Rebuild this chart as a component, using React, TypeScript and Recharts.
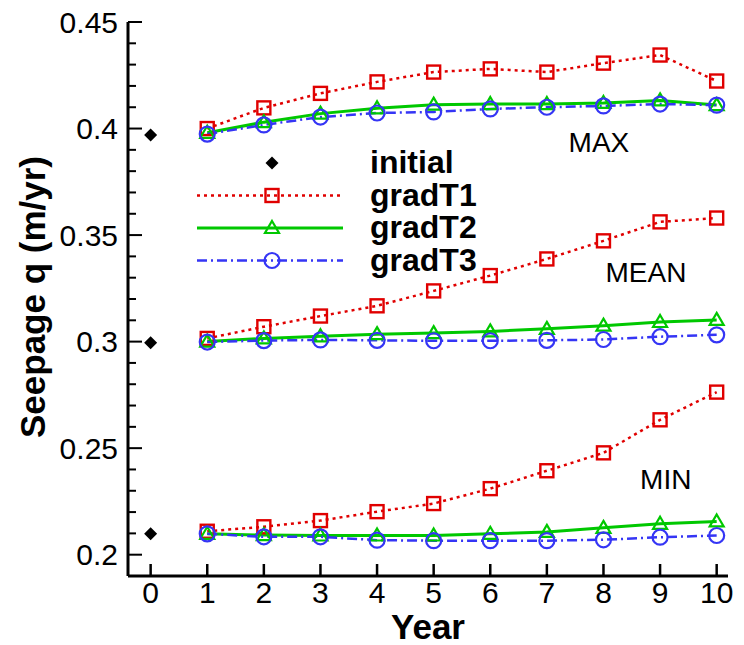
import React from "react";
import { ComposedChart, Line, XAxis, YAxis, ReferenceDot } from "recharts";

const FONT = "'Liberation Sans', Arial, sans-serif";

// x values (year) and tick marks
const years = [1, 2, 3, 4, 5, 6, 7, 8, 9, 10];
const xTicks = [0, 1, 2, 3, 4, 5, 6, 7, 8, 9, 10];
const yMajorTicks = [0.2, 0.25, 0.3, 0.35, 0.4, 0.45];
const yMinorTicks = [
  0.21, 0.22, 0.23, 0.24, 0.26, 0.27, 0.28, 0.29, 0.31, 0.32, 0.33, 0.34,
  0.36, 0.37, 0.38, 0.39, 0.41, 0.42, 0.43, 0.44,
];

// initial seepage at year 0
const initialYear = 0;
const initialMax = 0.397;
const initialMean = 0.2995;
const initialMin = 0.2098;

// gradT1
const gradT1Max = [0.4, 0.4097, 0.4165, 0.4219, 0.4265, 0.428, 0.4265, 0.4307, 0.4345, 0.4223];
const gradT1Mean = [0.3015, 0.307, 0.312, 0.3168, 0.3238, 0.331, 0.3388, 0.3473, 0.3562, 0.358];
const gradT1Min = [0.211, 0.2131, 0.216, 0.2202, 0.224, 0.231, 0.2394, 0.2478, 0.2633, 0.2763];

// gradT2
const gradT2Max = [0.398, 0.403, 0.407, 0.4095, 0.4112, 0.4115, 0.4115, 0.412, 0.4132, 0.411];
const gradT2Mean = [0.3, 0.3015, 0.3025, 0.3035, 0.304, 0.3048, 0.306, 0.3075, 0.3092, 0.3102];
const gradT2Min = [0.2098, 0.2092, 0.209, 0.209, 0.209, 0.2098, 0.2107, 0.2126, 0.2145, 0.2156];

// gradT3
const gradT3Max = [0.3974, 0.4017, 0.4054, 0.4073, 0.4078, 0.4092, 0.41, 0.4106, 0.4115, 0.411];
const gradT3Mean = [0.2998, 0.3005, 0.3008, 0.3006, 0.3004, 0.3004, 0.3006, 0.301, 0.3023, 0.3032];
const gradT3Min = [0.2098, 0.2084, 0.2084, 0.2068, 0.2066, 0.2066, 0.2066, 0.207, 0.2082, 0.209];

// group annotations
const groupNames = ["MAX", "MEAN", "MIN"];
const groupLabelYears = [7.92, 8.75, 9.1];
const groupLabelValues = [0.3935, 0.3325, 0.2357];

const series = [
  { name: "gradT1", color: "#e00000", dash: "3 4", width: 2.5, marker: "square", values: [gradT1Max, gradT1Mean, gradT1Min] },
  { name: "gradT2", color: "#00c800", dash: undefined, width: 3, marker: "triangle", values: [gradT2Max, gradT2Mean, gradT2Min] },
  { name: "gradT3", color: "#3535f5", dash: "10 4 2 4", width: 2.5, marker: "circle", values: [gradT3Max, gradT3Mean, gradT3Min] },
];
const initialValues = [initialMax, initialMean, initialMin];

const rows: any[] = [
  Object.fromEntries([["year", initialYear], ...groupNames.map((g, gi) => ["initial_" + g, initialValues[gi]])]),
  ...years.map((year, i) => {
    const row: any = { year };
    series.forEach((s) => groupNames.forEach((g, gi) => (row[s.name + "_" + g] = s.values[gi][i])));
    return row;
  }),
];

const PLOT_LEFT = 128;
const PLOT_BOTTOM = 576;

function Marker({ kind, cx, cy, color }: { kind: string; cx: number; cy: number; color: string }) {
  if (kind === "square")
    return <rect x={cx - 6.5} y={cy - 6.5} width={13} height={13} fill="none" stroke={color} strokeWidth={2.4} />;
  if (kind === "triangle")
    return (
      <path
        d={`M${cx},${cy - 7} L${cx + 7},${cy + 5} L${cx - 7},${cy + 5} Z`}
        fill="none"
        stroke={color}
        strokeWidth={2.2}
      />
    );
  if (kind === "circle") return <circle cx={cx} cy={cy} r={7.5} fill="none" stroke={color} strokeWidth={2.2} />;
  return <path d={`M${cx},${cy - 6.5} L${cx + 6.5},${cy} L${cx},${cy + 6.5} L${cx - 6.5},${cy} Z`} fill="#000" />;
}

const dotFor = (kind: string, color: string) => (p: any) =>
  p.cx == null || p.cy == null || p.value == null ? (
    <g key={p.index} />
  ) : (
    <Marker key={p.index} kind={kind} cx={p.cx} cy={p.cy} color={color} />
  );

const XTick = (p: any) => (
  <g>
    <line x1={p.x} x2={p.x} y1={PLOT_BOTTOM} y2={PLOT_BOTTOM - 12} stroke="#000" strokeWidth={2.5} />
    <text x={p.x} y={PLOT_BOTTOM + 27} textAnchor="middle" fontSize={30} fontFamily={FONT} fill="#000">
      {p.payload.value}
    </text>
  </g>
);

const YTick = (p: any) => {
  const v = p.payload.value;
  const major = yMajorTicks.includes(v);
  return (
    <g>
      <line x1={PLOT_LEFT} x2={PLOT_LEFT + (major ? 14 : 8)} y1={p.y} y2={p.y} stroke="#000" strokeWidth={2} />
      {major && (
        <text x={PLOT_LEFT - 10} y={p.y} dy="0.36em" textAnchor="end" fontSize={30} fontFamily={FONT} fill="#000">
          {String(v)}
        </text>
      )}
    </g>
  );
};

const legendItems = [
  { name: "initial", color: "#000", dash: undefined as string | undefined, width: 0, marker: "diamond" },
  ...series.map((s) => ({ name: s.name, color: s.color, dash: s.dash, width: s.width, marker: s.marker })),
];

// legend and axis titles drawn over the chart
const Overlay = () => (
  <svg width={744} height={645} style={{ position: "absolute", left: 0, top: 0, pointerEvents: "none" }}>
    {legendItems.map((item, i) => {
      const y = 163 + i * 32.5;
      return (
        <g key={item.name}>
          {item.width > 0 && (
            <line x1={197} x2={343} y1={y} y2={y} stroke={item.color} strokeWidth={item.width} strokeDasharray={item.dash} />
          )}
          <Marker kind={item.marker} cx={272} cy={y} color={item.color} />
          <text x={370} y={y + 10} fontSize={32} fontWeight="bold" fontFamily={FONT} fill="#000">
            {item.name}
          </text>
        </g>
      );
    })}
    <text x={428} y={639} textAnchor="middle" fontSize={35} fontWeight="bold" fontFamily={FONT} fill="#000">
      Year
    </text>
    <text
      transform="translate(45,297) rotate(-90)"
      textAnchor="middle"
      fontSize={35}
      fontWeight="bold"
      fontFamily={FONT}
      fill="#000"
    >
      Seepage q (m/yr)
    </text>
  </svg>
);

export default function App() {
  return (
    <div
      style={{
        position: "fixed",
        left: 0,
        top: 0,
        width: 744,
        height: 645,
        overflow: "hidden",
        background: "#fff",
        fontFamily: FONT,
      }}
    >
      <ComposedChart width={744} height={645} data={rows} margin={{ top: 22, right: 16, left: 0, bottom: 0 }}>
        <XAxis
          type="number"
          dataKey="year"
          domain={[-0.4, 10.2]}
          ticks={xTicks}
          interval={0}
          height={69}
          tickLine={false}
          axisLine={{ stroke: "#000", strokeWidth: 3 }}
          tick={<XTick />}
        />
        <YAxis
          type="number"
          domain={[0.19, 0.45]}
          ticks={[...yMajorTicks, ...yMinorTicks].sort((a, b) => a - b)}
          interval={0}
          width={128}
          tickLine={false}
          axisLine={{ stroke: "#000", strokeWidth: 3 }}
          tick={<YTick />}
        />
        {series.map((s) =>
          groupNames.map((g) => (
            <Line
              key={s.name + g}
              type="linear"
              dataKey={s.name + "_" + g}
              stroke={s.color}
              strokeWidth={s.width}
              strokeDasharray={s.dash}
              dot={dotFor(s.marker, s.color)}
              activeDot={false}
              isAnimationActive={false}
            />
          ))
        )}
        {groupNames.map((g) => (
          <Line
            key={"initial" + g}
            dataKey={"initial_" + g}
            stroke="none"
            dot={dotFor("diamond", "#000")}
            activeDot={false}
            isAnimationActive={false}
          />
        ))}
        {groupNames.map((g, i) => (
          <ReferenceDot
            key={"label" + g}
            x={groupLabelYears[i]}
            y={groupLabelValues[i]}
            r={0}
            fill="none"
            stroke="none"
            label={{ value: g, position: "center", fontSize: 28, fill: "#000", fontFamily: FONT }}
          />
        ))}
      </ComposedChart>
      <Overlay />
    </div>
  );
}
